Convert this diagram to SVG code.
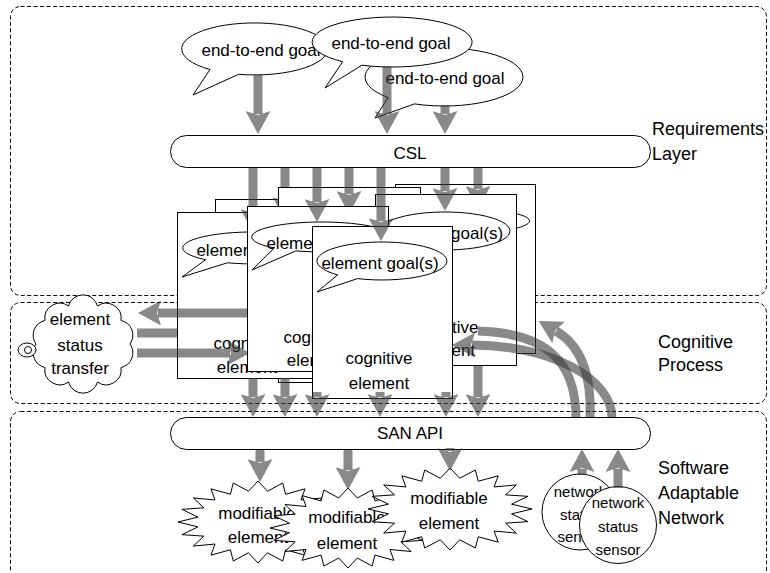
<svg xmlns="http://www.w3.org/2000/svg" width="770" height="573" viewBox="0 0 770 573">
<defs>
<style>
.lay{fill:none;stroke:#000;stroke-width:1;stroke-dasharray:4 2.5}
.sh{fill:#fff;stroke:#000;stroke-width:1}
.t{font-family:"Liberation Sans",Arial,sans-serif;font-size:17px;fill:#000;text-anchor:middle}
.lbl{font-size:18px;text-anchor:start}
.sm{font-size:15px}
.ar{fill:none;stroke:#3a3a3a;stroke-opacity:.6;stroke-width:9;marker-end:url(#ah)}
.br{fill:none;stroke:#3a3a3a;stroke-opacity:.6;stroke-width:9}
</style>
<marker id="ah" viewBox="0 0 23 25" refX="3" refY="12.5" markerWidth="23" markerHeight="25" markerUnits="userSpaceOnUse" orient="auto"><path d="M0,0 L23,12.5 L0,25 L4,12.5 Z" fill="#3a3a3a" fill-opacity="0.6"/></marker>
<path id="star" vector-effect="non-scaling-stroke" d="M1,0 L.7507,.1189 L.9511,.309 L.6772,.345 L.809,.5878 L.5374,.5374 L.5878,.809 L.345,.6772 L.309,.9511 L.1189,.7507 L0,1 L-.1189,.7507 L-.309,.9511 L-.345,.6772 L-.5878,.809 L-.5374,.5374 L-.809,.5878 L-.6772,.345 L-.9511,.309 L-.7507,.1189 L-1,0 L-.7507,-.1189 L-.9511,-.309 L-.6772,-.345 L-.809,-.5878 L-.5374,-.5374 L-.5878,-.809 L-.345,-.6772 L-.309,-.9511 L-.1189,-.7507 L0,-1 L.1189,-.7507 L.309,-.9511 L.345,-.6772 L.5878,-.809 L.5374,-.5374 L.809,-.5878 L.6772,-.345 L.9511,-.309 L.7507,-.1189 Z"/>
</defs>

<g id="layers">
<rect class="lay" x="10.5" y="6.5" width="756" height="289" rx="10"/>
<rect class="lay" x="10.5" y="302.5" width="756" height="101" rx="10"/>
<rect class="lay" x="10.5" y="411.5" width="756" height="180" rx="10"/>
<text class="t lbl" x="652" y="135">Requirements</text>
<text class="t lbl" x="652" y="160">Layer</text>
<text class="t lbl" x="658" y="348">Cognitive</text>
<text class="t lbl" x="658" y="371">Process</text>
<text class="t lbl" x="658" y="474">Software</text>
<text class="t lbl" x="658" y="499">Adaptable</text>
<text class="t lbl" x="658" y="524">Network</text>
</g>

<g id="element-status-transfer">
<path class="sh" d="M130,344 A15,15 0 0,1 121,367.5 A15,15 0 0,1 97.5,382 A15,15 0 0,1 68.5,382 A15,15 0 0,1 45,367.5 A15,15 0 0,1 36,344 A15,15 0 0,1 45,320.5 A15,15 0 0,1 68.5,306 A15,15 0 0,1 97.5,306 A15,15 0 0,1 121,320.5 A15,15 0 0,1 130,344 Z"/>
<ellipse class="sh" cx="27" cy="350" rx="9" ry="7"/>
<circle class="sh" cx="28" cy="350" r="3.5"/>
<text class="t" x="80" y="325">element</text>
<text class="t" x="80" y="351">status</text>
<text class="t" x="80" y="374">transfer</text>
</g>

<g id="goal-1">
<path class="sh" d="M210,69.5 A73,26 0 1 1 238.6,74.3 L193,95 Z"/>
<text class="t" x="261" y="56">end-to-end goal</text>
</g>
<g id="goal-3">
<path class="sh" d="M388.1,97.5 A79,29 0 1 1 414.4,103.9 L375,118 Z"/>
<text class="t" x="445" y="84">end-to-end goal</text>
</g>
<g id="goal-2">
<path class="sh" d="M342.7,61.7 A80,25 0 1 1 362,65.2 L325,88 Z"/>
<text class="t" x="391" y="49">end-to-end goal</text>
</g>

<g id="csl">
<rect class="sh" x="170.5" y="135.5" width="480" height="32" rx="16"/>
<text class="t" x="410" y="159">CSL</text>
</g>

<g id="connectors-goals" class="connectors">
<path class="ar" d="M258,75 V114"/>
<path class="ar" d="M387,66 V114"/>
<path class="ar" d="M445,105 V114"/>
</g>

<g id="cog-g">
<rect class="sh" x="395.5" y="184.5" width="140" height="169"/>
<path class="sh" d="M420.7,229.8 A65,12 0 1 1 440.6,232.1 L400,250 Z"/>
</g>
<g class="connectors" id="connector-g"><path class="ar" d="M478,168 V189"/></g>

<g id="cog-a">
<rect class="sh" x="215.5" y="199.5" width="141" height="166"/>
</g>
<g class="connectors" id="connector-a"><path class="ar" d="M285,168 V200"/></g>

<g id="cog-f">
<rect class="sh" x="278.5" y="187.5" width="142" height="195"/>
</g>
<g class="connectors" id="connector-f"><path class="ar" d="M349,168 V194"/></g>

<g class="connectors" id="connector-status-bar"><path class="br" d="M137,333 H195"/></g>

<g id="cog-b">
<rect class="sh" x="177.5" y="212.5" width="141" height="166"/>
<path class="sh" d="M205.6,259.7 A71,16 0 1 1 227.4,262.8 L182,277 Z"/>
<text class="t" x="255" y="256">element goal(s)</text>
<text class="t" x="247" y="349">cognitive</text>
<text class="t" x="247" y="373">element</text>
</g>
<g class="connectors" id="connector-b">
<path class="ar" d="M253,168 V212"/>
<path class="ar" d="M262,313 H158"/>
<path class="ar" d="M137,353 H230"/>
</g>

<g id="cog-h">
<rect class="sh" x="375.5" y="194.5" width="141" height="171"/>
<path class="sh" d="M400.7,244.9 A65,19 0 1 1 420.6,248.6 L380,262 Z"/>
<text class="t" x="444.5" y="239">element goal(s)</text>
<text class="t" x="445" y="333">cognitive</text>
<text class="t" x="445" y="356">element</text>
</g>
<g class="connectors" id="connector-h"><path class="ar" d="M445,168 V191"/></g>

<g id="cog-c">
<rect class="sh" x="247.5" y="206.5" width="141" height="165"/>
<path class="sh" d="M274.3,248 A70,15 0 1 1 295.8,250.9 L252,270 Z"/>
<text class="t" x="325" y="249">element goal(s)</text>
<text class="t" x="317" y="343">cognitive</text>
<text class="t" x="317" y="366">element</text>
</g>
<g class="connectors" id="connector-c"><path class="ar" d="M317,168 V202"/></g>

<g id="cog-d">
<rect class="sh" x="312.5" y="226.5" width="140" height="172"/>
<path class="sh" d="M337.7,274.9 A65,19 0 1 1 357.6,278.6 L317,292 Z"/>
<text class="t" x="380" y="269">element goal(s)</text>
<text class="t" x="379" y="364">cognitive</text>
<text class="t" x="379" y="389">element</text>
</g>
<g class="connectors" id="connector-d"><path class="ar" d="M381,168 V221"/></g>

<g class="connectors" id="connectors-sensor-arcs">
<path class="ar" d="M612,418 A140,73 0 0 0 472,345"/>
<path class="br" d="M576,418 C576,360 545,333 478,331"/>
<path class="ar" d="M590,418 C592,372 580,345 556,331"/>
</g>

<g id="san-api">
<rect class="sh" x="170.5" y="417.5" width="480" height="32" rx="16"/>
<text class="t" x="410" y="439">SAN API</text>
</g>

<g class="connectors" id="connectors-to-san">
<path class="ar" d="M253,378 V397"/>
<path class="ar" d="M285,378 V397"/>
<path class="ar" d="M317,392 V397"/>
<path class="ar" d="M380,392 V397"/>
<path class="ar" d="M446,392 V397"/>
<path class="ar" d="M478,366 V397"/>
</g>

<g id="modifiable-1">
<use href="#star" class="sh" transform="translate(258,522) scale(80,41)"/>
<text class="t" x="257" y="519">modifiable</text>
<text class="t" x="258" y="543">element</text>
</g>
<g id="modifiable-2">
<use href="#star" class="sh" transform="translate(348,528) scale(78,40)"/>
<text class="t" x="347" y="523">modifiable</text>
<text class="t" x="347" y="549">element</text>
</g>
<g id="modifiable-3">
<use href="#star" class="sh" transform="translate(450,509) scale(82,41)"/>
<text class="t" x="449" y="504">modifiable</text>
<text class="t" x="449" y="529">element</text>
</g>

<g id="sensor-1">
<circle class="sh" cx="580" cy="512" r="38"/>
<text class="t sm" x="580" y="497">network</text>
<text class="t sm" x="580" y="520">status</text>
<text class="t sm" x="580" y="542">sensor</text>
</g>
<g id="sensor-2">
<circle class="sh" cx="618" cy="525" r="38.5"/>
<text class="t sm" x="618" y="508">network</text>
<text class="t sm" x="618" y="532">status</text>
<text class="t sm" x="618" y="555">sensor</text>
</g>

<g class="connectors" id="connectors-san-out">
<path class="ar" d="M260,450 V462"/>
<path class="ar" d="M348,450 V470"/>
<path class="ar" d="M450,448 V451"/>
<path class="ar" d="M582,475 V469"/>
<path class="ar" d="M618,488 V469"/>
</g>
</svg>
